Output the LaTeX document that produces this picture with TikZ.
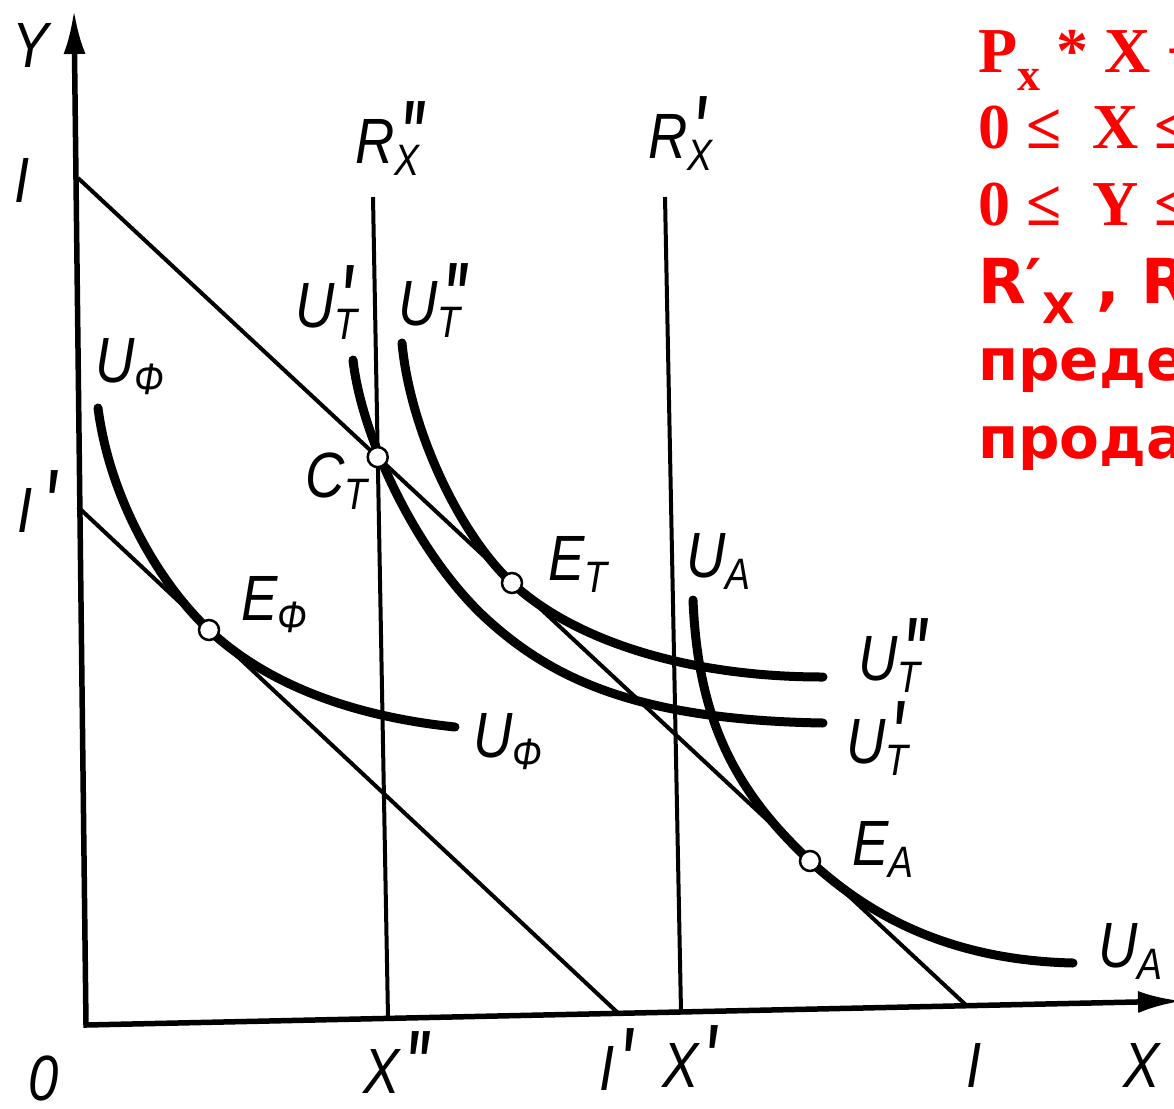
\documentclass[tikz,border=0pt]{standalone}
\usepackage{fontspec}
\usepackage{graphicx}
\usetikzlibrary{arrows.meta}
\newfontfamily\lblfont{Liberation Sans}[FakeStretch=0.85]
\newfontfamily\redserif{Liberation Serif}
\newfontfamily\redsans{DejaVu Sans}
\definecolor{alarm}{HTML}{FF0000}

% lowered index and raised primes of the curve labels
\newcommand{\lo}[1]{\raisebox{-12pt}{\fontsize{44}{44}\selectfont #1}}
\newcommand{\hi}[1]{\rlap{\hspace{7pt}\scalebox{1.1}[1.8]{\fontsize{50}{50}\selectfont\bfseries #1}}}

\tikzset{
  axisline/.style={line width=5.5pt, {Latex[length=44pt,width=22pt]}-{Latex[length=44pt,width=22pt]}},
  thinline/.style={line width=4pt},
  curve/.style={line width=9pt, line cap=round},
  dot/.style={circle, draw, fill=white, line width=2.5pt, minimum size=20pt, inner sep=0pt},
  lbl/.style={anchor=base west, inner sep=0pt, font=\lblfont\itshape\fontsize{64}{64}\selectfont},
  lowlbl/.style={lbl, text depth=0pt},
  redline/.style={anchor=base west, inner sep=0pt, text=alarm}
}

\begin{document}
\begin{tikzpicture}[x=1pt, y=-1pt]
\useasboundingbox (0,0) rectangle (1174,1108);
\clip (0,0) rectangle (1174,1108);

% Axes
\coordinate (O) at (86,1025);
\coordinate (Ytip) at (74,10);
\coordinate (Xtip) at (1182,1001);
\draw[axisline] (Ytip) -- (O) -- (Xtip);

% Budget lines I and I'
\coordinate (I1) at (78,178);
\coordinate (I2) at (967,1006);
\coordinate (Ip1) at (78,507);
\coordinate (Ip2) at (618,1013);
\draw[thinline] (I1) -- (I2);
\draw[thinline] (Ip1) -- (Ip2);

% Limits R''x and R'x
\coordinate (Rpp1) at (373,197);
\coordinate (Rpp2) at (388,1018);
\coordinate (Rp1) at (665,197);
\coordinate (Rp2) at (681,1012);
\draw[thinline] (Rpp1) -- (Rpp2);
\draw[thinline] (Rp1) -- (Rp2);

% Points
\coordinate (CT) at (intersection of I1--I2 and Rpp1--Rpp2);
\coordinate (ET) at (512,583);
\coordinate (EA) at (810,861);
\coordinate (EF) at (209,630);

% Indifference curves
\coordinate (UppTa) at (402,343);
\coordinate (UppTb) at (823,677);
\draw[curve] (UppTa) .. controls (410,430) and (460,535) .. (ET)
  .. controls (570,637) and (680,677) .. (UppTb);
\coordinate (UpTa) at (353,360);
\coordinate (UpTb) at (823,723);
\draw[curve] (UpTa) .. controls (362,440) and (420,560) .. (490,622)
  .. controls (555,680) and (640,720) .. (UpTb);
\coordinate (UAa) at (693,600);
\coordinate (UAb) at (1073,963);
\draw[curve] (UAa) .. controls (698,720) and (735,791) .. (EA)
  .. controls (861,908) and (940,960) .. (UAb);
\coordinate (UFa) at (98,408);
\coordinate (UFb) at (455,727);
\draw[curve] (UFa) .. controls (110,500) and (160,584) .. (EF)
  .. controls (260,678) and (340,715) .. (UFb);

% Marked points
\node[dot] (CTdot) at (CT) {};
\node[dot] (ETdot) at (ET) {};
\node[dot] (EAdot) at (EA) {};
\node[dot] (EFdot) at (EF) {};

% Axis labels
\node[lbl] (labY) at (12,67) {Y};
\node[lbl] (labI) at (14,202) {I};
\node[lbl] (labIp) at (17,532) {I\hspace{6pt}\hi{′}};
\node[lowlbl] (labO) at (28,1100) {0};
\node[lowlbl] (labXpp) at (363,1093) {X\hi{″}};
\node[lowlbl] (labIpx) at (599,1090) {I\hi{′}};
\node[lowlbl] (labXp) at (662,1087) {X\hi{′}};
\node[lowlbl] (labIx) at (966,1087) {I};
\node[lowlbl] (labX) at (1123,1087) {X};

% Curve and line labels
\node[lbl] (labRpp) at (355,163) {R\hi{″}\lo{X}};
\node[lbl] (labRp) at (648,158) {R\hi{′}\lo{X}};
\node[lbl] (labUpT) at (295,327) {U\hi{′}\lo{T}};
\node[lbl] (labUppT) at (398,325) {U\hi{″}\lo{T}};
\node[lbl] (labUF) at (95,382) {U\lo{Ф}};
\node[lbl] (labCT) at (305,497) {C\lo{T}};
\node[lbl] (labET) at (548,580) {E\lo{T}};
\node[lbl] (labEF) at (241,620) {E\lo{Ф}};
\node[lbl] (labUFb) at (473,757) {U\lo{Ф}};
\node[lbl] (labUA) at (686,577) {U\lo{A}};
\node[lbl] (labUppTb) at (858,680) {U\hi{″}\lo{T}};
\node[lbl] (labUpTb) at (846,763) {U\hi{′}\lo{T}};
\node[lbl] (labEA) at (852,865) {E\lo{A}};
\node[lbl] (labUAb) at (1098,967) {U\lo{A}};

% Red notes, cut by the right edge
\node[redline, font=\redserif\bfseries\fontsize{64}{64}\selectfont] (noteBudget) at (978,72)
  {P\raisebox{-18pt}{\fontsize{46}{46}\selectfont x} * X +};
\node[redline, font=\redserif\bfseries\fontsize{64}{64}\selectfont] (noteX) at (978,148)
  {0 ≤\hspace{15pt} X ≤};
\node[redline, font=\redserif\bfseries\fontsize{64}{64}\selectfont] (noteY) at (978,225)
  {0 ≤\hspace{15pt} Y ≤};
\node[redline, font=\redsans\bfseries\fontsize{62}{62}\selectfont] (noteR) at (978,303)
  {R′\raisebox{-20pt}{\fontsize{42}{42}\selectfont X} , R};
\node[redline, font=\redsans\bfseries\fontsize{58}{58}\selectfont] (noteWordA) at (978,380) {преде};
\node[redline, font=\redsans\bfseries\fontsize{58}{58}\selectfont] (noteWordB) at (978,458) {прода};

\end{tikzpicture}
\end{document}
